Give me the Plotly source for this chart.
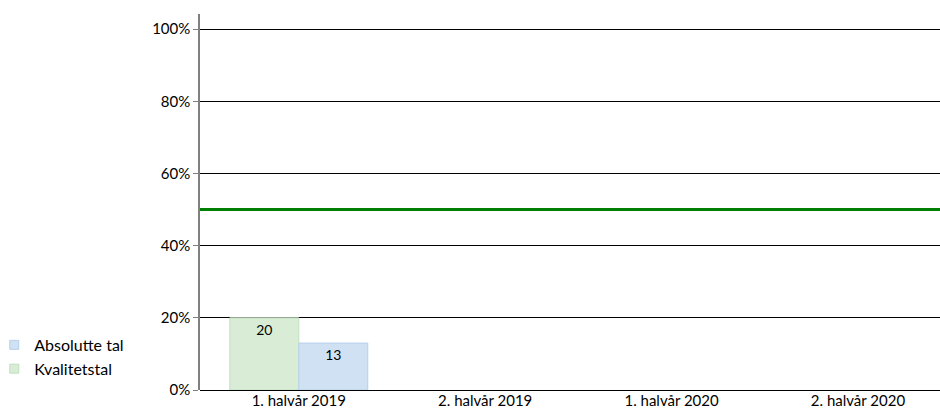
import plotly.graph_objects as go

categories = ["1. halvår 2019", "2. halvår 2019", "1. halvår 2020", "2. halvår 2020"]
kvalitetstal = [20, None, None, None]
absolutte_tal = [13, None, None, None]
target_level = 50
y_ticks = [0, 20, 40, 60, 80, 100]
y_tick_labels = ["0%", "20%", "40%", "60%", "80%", "100%"]

FONT = "Lato, Carlito, Calibri, sans-serif"
GREEN_FILL, GREEN_EDGE = "rgb(217,237,214)", "rgb(192,224,190)"
BLUE_FILL, BLUE_EDGE = "rgb(207,225,243)", "rgb(182,208,236)"

fig = go.Figure()
fig.add_trace(go.Bar(
    name="Kvalitetstal", x=categories, y=kvalitetstal, showlegend=False,
    marker=dict(color=GREEN_FILL, line=dict(color=GREEN_EDGE, width=1)),
    text=[str(v) if v is not None else "" for v in kvalitetstal],
    textposition="inside", insidetextanchor="end",
    textfont=dict(color="black", size=14, family=FONT),
))
fig.add_trace(go.Bar(
    name="Absolutte tal", x=categories, y=absolutte_tal, showlegend=False,
    marker=dict(color=BLUE_FILL, line=dict(color=BLUE_EDGE, width=1)),
    text=[str(v) if v is not None else "" for v in absolutte_tal],
    textposition="inside", insidetextanchor="end",
    textfont=dict(color="black", size=14, family=FONT),
))

# legend entries with small square swatches
for name, fill, edge in [("Kvalitetstal", GREEN_FILL, GREEN_EDGE),
                         ("Absolutte tal", BLUE_FILL, BLUE_EDGE)]:
    fig.add_trace(go.Scatter(
        name=name, x=[None], y=[None], mode="markers",
        marker=dict(symbol="square", size=9, color=fill, line=dict(color=edge, width=1)),
    ))

fig.add_shape(type="line", xref="paper", yref="y", x0=0, x1=1,
              y0=target_level, y1=target_level,
              line=dict(color="rgb(0,128,0)", width=3))

fig.update_layout(
    width=940, height=410,
    margin=dict(l=200, r=0, t=14, b=20, autoexpand=False),
    paper_bgcolor="white", plot_bgcolor="white",
    font=dict(family=FONT, size=15, color="black"),
    barmode="group", bargap=0.26, bargroupgap=0,
    uniformtext=dict(mode="show", minsize=8),
    showlegend=True,
    legend=dict(x=-0.278, y=0.165, xanchor="left", yanchor="top",
                traceorder="reversed", font=dict(size=16, family=FONT),
                itemwidth=30, tracegroupgap=0, bgcolor="rgba(0,0,0,0)"),
    xaxis=dict(range=[-0.53, 3.44], showgrid=False, showline=False, ticks="",
               zeroline=False, tickfont=dict(size=15)),
    yaxis=dict(range=[0, 104.2], tickvals=y_ticks, ticktext=y_tick_labels,
               showgrid=True, gridcolor="black", gridwidth=1,
               showline=True, linecolor="rgb(128,128,128)", linewidth=1.5,
               ticks="outside", ticklen=5, tickcolor="rgb(128,128,128)",
               zeroline=True, zerolinecolor="black", zerolinewidth=1,
               tickfont=dict(size=15)),
)

fig.write_html("out.html")
